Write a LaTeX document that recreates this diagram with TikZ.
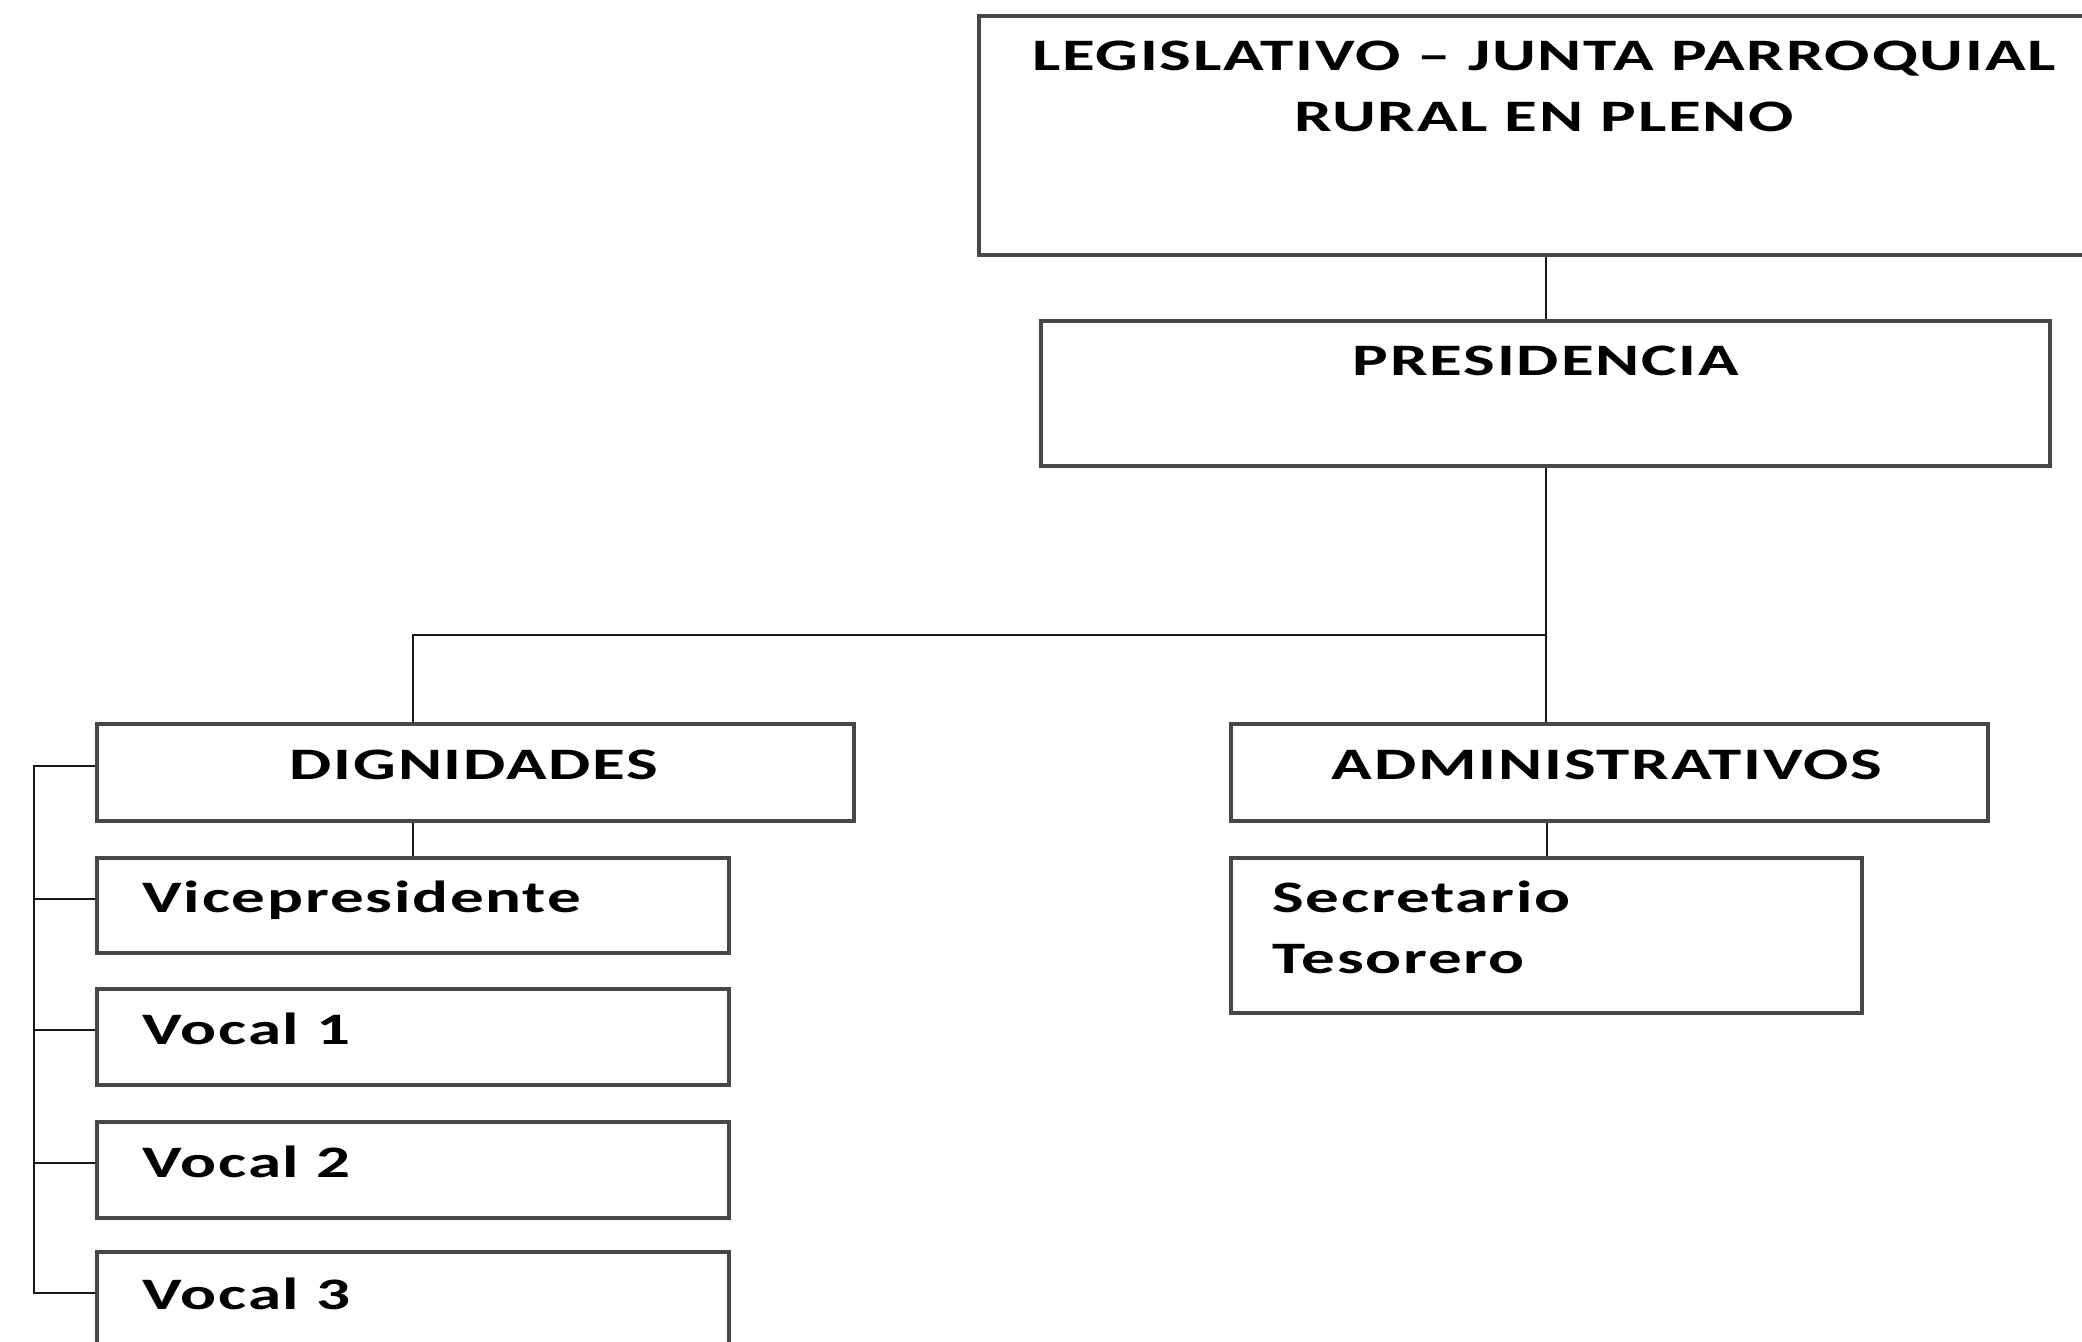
\documentclass[tikz,border=0pt]{standalone}
\usepackage{fontspec}
\setmainfont{Carlito}[FakeStretch=1.49,LetterSpace=4]
\begin{document}
\begin{tikzpicture}[x=0.5pt,y=-0.5pt,
  orgbox/.style={draw=black!72,line width=1.6pt,fill=white,inner sep=0pt,rectangle},
  conn/.style={draw=black!90,line width=1pt},
  ctext/.style={anchor=base,inner sep=0pt,font=\fontsize{22.5}{30.5}\selectfont\bfseries,align=center},
  ltext/.style={anchor=base west,inner sep=0pt,font=\fontsize{22.5}{30.5}\selectfont\bfseries,align=left}]
\useasboundingbox (0,0) rectangle (2082,1341);
\clip (0,0) rectangle (2082,1341);
\fill[white] (0,0) rectangle (2082,1341);
% boxes
\node[orgbox,minimum width=565pt,minimum height=119.5pt] (leg) at (1544,135.5) {};
\node[orgbox,minimum width=504.5pt,minimum height=72.5pt] (pres) at (1545.5,393.5) {};
\node[orgbox,minimum width=378.5pt,minimum height=48.5pt] (dign) at (475.5,772.5) {};
\node[orgbox,minimum width=378.5pt,minimum height=48.5pt] (admin) at (1609.5,772.5) {};
\node[orgbox,minimum width=316pt,minimum height=47.5pt] (vice) at (413,905.5) {};
\node[orgbox,minimum width=316pt,minimum height=48pt] (v1) at (413,1037) {};
\node[orgbox,minimum width=316pt,minimum height=48pt] (v2) at (413,1170) {};
\node[orgbox,minimum width=316pt,minimum height=48pt] (v3) at (413,1300) {};
\node[orgbox,minimum width=315.5pt,minimum height=77.5pt] (sec) at (1546.5,935.5) {};
% texts
\node[ctext] (tleg1) at (1544,70) {LEGISLATIVO – JUNTA PARROQUIAL};
\node[ctext] (tleg2) at (1544,131) {RURAL EN PLENO};
\node[ctext] (tpres) at (1546,375) {PRESIDENCIA};
\node[ctext] (tdign) at (474,779) {DIGNIDADES};
\node[ctext] (tadmin) at (1607,779) {ADMINISTRATIVOS};
\node[ltext] (tvice) at (142,912) {Vicepresidente};
\node[ltext] (tv1) at (142,1044) {Vocal 1};
\node[ltext] (tv2) at (142,1177) {Vocal 2};
\node[ltext] (tv3) at (142,1309) {Vocal 3};
\node[ltext] (tsec) at (1272,912) {Secretario};
\node[ltext] (ttes) at (1272,973) {Tesorero};
% connectors
\coordinate (j) at (413,635);
\draw[conn] (leg.south -| pres.north) -- (pres.north);
\draw[conn] (pres.south) -- (pres.south |- admin.north);
\draw[conn] (pres.south |- j) -- (j) -- (j |- dign.north);
\draw[conn] (dign.south -| vice.north) -- (vice.north);
\draw[conn] (admin.south -| sec.north) -- (sec.north);
\draw[conn] ([yshift=3.5pt]dign.west) -- ++(-61,0) |- ([yshift=3.5pt]v3.west);
\draw[conn] ([yshift=3.5pt]vice.west) -- ++(-61,0);
\draw[conn] ([yshift=3.5pt]v1.west) -- ++(-61,0);
\draw[conn] ([yshift=3.5pt]v2.west) -- ++(-61,0);
\end{tikzpicture}
\end{document}
